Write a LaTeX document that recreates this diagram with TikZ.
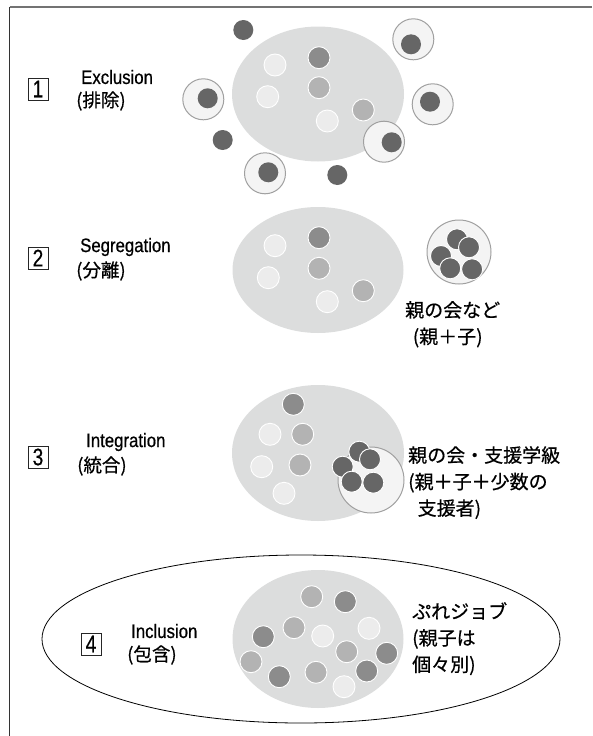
\documentclass[tikz,border=0pt]{standalone}
\usepackage{fontspec}
\setmainfont{Liberation Sans}[FakeStretch=0.86,FakeBold=0.6]
\newfontfamily\numf{Liberation Sans}[FakeStretch=0.8,FakeBold=0.4]
\newfontfamily\jp{Noto Sans CJK JP}[FakeBold=0.6]
\definecolor{bgg}{HTML}{DCDDDD}
\definecolor{cl}{HTML}{ECECEC}
\definecolor{cm}{HTML}{B3B3B3}
\definecolor{cmd}{HTML}{8C8C8C}
\definecolor{cd}{HTML}{666666}
\definecolor{ringf}{HTML}{F4F4F4}
\definecolor{ringd}{HTML}{A0A0A0}
\begin{document}
\begin{tikzpicture}[x=1pt,y=-1pt,
  pt/.style={circle,draw=white,line width=0.9pt,minimum size=22pt,inner sep=0pt},
  lt/.style={pt,fill=cl},
  md/.style={pt,fill=cm},
  mdk/.style={pt,fill=cmd},
  dk/.style={circle,fill=cd,minimum size=20pt,inner sep=0pt},
  dkw/.style={circle,fill=cd,draw=white,line width=0.9pt,minimum size=21pt,inner sep=0pt},
  ring/.style={circle,fill=ringf,draw=ringd,line width=1pt,inner sep=0pt},
  numbox/.style={draw=black!85,line width=1pt,minimum width=20pt,minimum height=22pt,inner sep=0pt,font=\numf\fontsize{24}{24}\selectfont},
  lat/.style={anchor=west,inner sep=0pt,font=\fontsize{19.5}{19.5}\selectfont},
  jpt/.style={anchor=west,inner sep=0pt,font=\jp\fontsize{18.5}{18.5}\selectfont},
  jpr/.style={anchor=north west,inner sep=0pt,align=left,font=\jp\fontsize{19}{26.5}\selectfont}]
\useasboundingbox (0,0) rectangle (592,736);
% frame
\coordinate (fbl) at (9.5,736);
\coordinate (ftl) at (9.5,6.5);
\coordinate (ftr) at (592,6.5);
\draw[black!80,line width=1.3pt] (fbl) -- (ftl);
\draw[black!55,line width=2pt] (ftl) -- (ftr);

% ===== 1 Exclusion
\fill[bgg] (318,94) ellipse [x radius=86pt,y radius=67.5pt];
\node[lt] (a1) at (275,65) {};
\node[mdk] (a2) at (319,57.7) {};
\node[lt] (a3) at (267.7,96.7) {};
\node[md] (a4) at (319,87.7) {};
\node[md] (a5) at (363.3,110) {};
\node[lt] (a6) at (327.3,121) {};
\node[dk] (o1) at (243.3,30) {};
\node[dk] (o2) at (222.7,140) {};
\node[dk] (o3) at (337.3,175) {};
\node[ring,minimum size=41pt] (r1) at (413.3,39.3) {};
\node[dk] (d1) at (411,44.3) {};
\node[ring,minimum size=41pt] (r2) at (203.3,99.3) {};
\node[dk] (d2) at (207.7,98.3) {};
\node[ring,minimum size=41pt] (r3) at (432.7,104.3) {};
\node[dk] (d3) at (430,101.7) {};
\node[ring,minimum size=41pt] (r4) at (384,141.7) {};
\node[dk] (d4) at (391.7,142.3) {};
\node[ring,minimum size=41pt] (r5) at (265,173.3) {};
\node[dk] (d5) at (268.3,172.3) {};
\node[numbox] (n1) at (38,89) {1};
\node[lat] (t1a) at (81,77) {Exclusion};
\node[jpt] (t1b) at (76,101) {(排除)};

% ===== 2 Segregation
\fill[bgg] (318,270) ellipse [x radius=85.5pt,y radius=63pt];
\node[lt] (b1) at (275,245.7) {};
\node[mdk] (b2) at (319,237.7) {};
\node[lt] (b3) at (268.3,277.7) {};
\node[md] (b4) at (319,268.3) {};
\node[md] (b5) at (363.3,290.7) {};
\node[lt] (b6) at (327.3,301.7) {};
\node[ring,minimum size=64pt] (gr) at (459,252) {};
\node[dkw] (g1) at (457,239.3) {};
\node[dkw] (g2) at (469,247.3) {};
\node[dkw] (g3) at (441,256) {};
\node[dkw] (g4) at (450.2,268.3) {};
\node[dkw] (g5) at (472.1,269.3) {};
\node[numbox] (n2) at (38,258) {2};
\node[lat] (t2a) at (80,247) {Segregation};
\node[jpt] (t2b) at (76,271) {(分離)};
\node[jpr] (t2c) at (405,301) {親の会など\\\hspace{0.4em}(親＋子)};

% ===== 3 Integration
\fill[bgg] (318,453) ellipse [x radius=86pt,y radius=68pt];
\node[mdk] (c1) at (293.3,404.3) {};
\node[lt] (c2) at (270,434.3) {};
\node[md] (c3) at (302.7,434.3) {};
\node[lt] (c4) at (261.7,466.7) {};
\node[md] (c5) at (300,465) {};
\node[lt] (c6) at (284,493.3) {};
\node[ring,minimum size=66pt] (sr) at (371,480) {};
\node[dkw] (s1) at (359.3,451.7) {};
\node[dkw] (s2) at (370,459.3) {};
\node[dkw] (s3) at (342.7,466.7) {};
\node[dkw] (s4) at (351.7,481.7) {};
\node[dkw] (s5) at (373.3,482.7) {};
\node[numbox] (n3) at (38,457) {3};
\node[lat] (t3a) at (86,442) {Integration};
\node[jpt] (t3b) at (77,466) {(統合)};
\node[jpr] (t3c) at (408,446) {親の会・支援学級\\(親＋子＋少数の\\\hspace{0.5em}支援者)};

% ===== 4 Inclusion
\draw[black,line width=0.8pt] (301,639) ellipse [x radius=259pt,y radius=84pt];
\fill[bgg] (318,639) ellipse [x radius=85.5pt,y radius=69pt];
\node[md] (e1) at (311.7,596.7) {};
\node[mdk] (e2) at (345.3,601.7) {};
\node[md] (e3) at (294,627.7) {};
\node[lt] (e4) at (369,628.3) {};
\node[mdk] (e5) at (263.3,636.7) {};
\node[lt] (e6) at (322.7,636) {};
\node[md] (e7) at (346.7,651.7) {};
\node[mdk] (e8) at (386.7,653.3) {};
\node[md] (e9) at (251,661.7) {};
\node[mdk] (e10) at (366.7,671) {};
\node[mdk] (e11) at (279.3,676.7) {};
\node[md] (e12) at (316,672.3) {};
\node[lt] (e13) at (344,686.7) {};
\node[numbox] (n4) at (91,644) {4};
\node[lat] (t4a) at (131,631) {Inclusion};
\node[jpt] (t4b) at (127,655) {(包含)};
\node[jpr] (t4c) at (412,602) {ぷれジョブ\\(親子は\\個々別)};
\end{tikzpicture}
\end{document}
